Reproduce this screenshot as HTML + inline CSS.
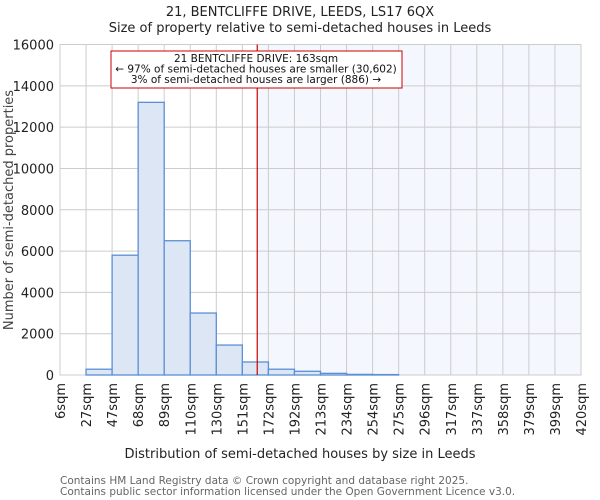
<!DOCTYPE html>
<html><head><meta charset="utf-8"><style>
body{margin:0;background:#fff}
svg{display:block;font-family:"DejaVu Sans","Liberation Sans",sans-serif}
</style></head><body>
<svg id="chart" width="600" height="500" xmlns="http://www.w3.org/2000/svg">
<text x="300" y="16" text-anchor="middle" font-size="13" fill="#222">21, BENTCLIFFE DRIVE, LEEDS, LS17 6QX</text>
<text x="300" y="32" text-anchor="middle" font-size="13" fill="#222">Size of property relative to semi-detached houses in Leeds</text>
<g id="grid"></g><g id="bars"></g><g id="axes"></g>
<text x="300" y="458" text-anchor="middle" font-size="13" fill="#222">Distribution of semi-detached houses by size in Leeds</text>
<text transform="translate(13,210) rotate(-90)" text-anchor="middle" font-size="13" fill="#444">Number of semi-detached properties</text>
<text x="60" y="484" font-size="10.5" fill="#666">Contains HM Land Registry data © Crown copyright and database right 2025.</text>
<text x="60" y="495" font-size="10.5" fill="#666">Contains public sector information licensed under the Open Government Licence v3.0.</text>
</svg>
<script>
const binLabels=["6sqm","27sqm","47sqm","68sqm","89sqm","110sqm","130sqm","151sqm","172sqm","192sqm","213sqm","234sqm","254sqm","275sqm","296sqm","317sqm","337sqm","358sqm","379sqm","399sqm","420sqm"];
const counts=[0,280,5800,13200,6500,3000,1450,630,280,180,80,30,20,0,0,0,0,0,0,0];
const yTicks=[0,2000,4000,6000,8000,10000,12000,14000,16000];
const propertySize=163;
const annotationLines=["21 BENTCLIFFE DRIVE: 163sqm","← 97% of semi-detached houses are smaller (30,602)","3% of semi-detached houses are larger (886) →"];
const NS="http://www.w3.org/2000/svg";
const L=60,R=581,T=44.5,B=375,yMax=16000;
const nb=binLabels.length-1;
const xb=i=>L+i*(R-L)/nb;
const binVals=binLabels.map(s=>parseFloat(s));
function xv(v){for(let i=0;i<nb;i++){if(v<=binVals[i+1]){return xb(i)+(v-binVals[i])/(binVals[i+1]-binVals[i])*(xb(i+1)-xb(i));}}return R;}
const y=v=>B-v/yMax*(B-T);
function mk(tag,attrs,parent){const e=document.createElementNS(NS,tag);for(const k in attrs)e.setAttribute(k,attrs[k]);parent.appendChild(e);return e;}
const grid=document.getElementById('grid'),bars=document.getElementById('bars'),axes=document.getElementById('axes');
const px=xv(propertySize);
let sh=mk('rect',{x:px,y:T,width:R-px,height:B-T,fill:'#f4f7fd'},grid);


yTicks.forEach(t=>{
 let g=mk('line',{x1:L,x2:R,y1:y(t),y2:y(t),stroke:'#ccc','stroke-width':1},grid);
 
 
 let tx=mk('text',{x:L-6,y:y(t)+5,'text-anchor':'end','font-size':13,fill:'#222'},axes);
 tx.textContent=t;
 
 
});
binLabels.forEach((lab,i)=>{
 let g=mk('line',{x1:xb(i),x2:xb(i),y1:T,y2:B,stroke:'#ccc','stroke-width':1},grid);
 
 
 let tx=mk('text',{transform:`translate(${xb(i)+5},383) rotate(-90)`,'text-anchor':'end','font-size':13,fill:'#222'},axes);
 tx.textContent=lab;
 
 
});
let fr=mk('rect',{x:L,y:T,width:R-L,height:B-T,fill:'none',stroke:'#ccc'},grid);


counts.forEach((c,i)=>{
 if(c<=0)return;
 let b=mk('rect',{x:xb(i),y:y(c),width:xb(i+1)-xb(i),height:B-y(c),fill:'#dce6f4',stroke:'#5b8fd6','stroke-width':1.3},bars);
 
 
});
let ml=mk('line',{x1:px,x2:px,y1:T,y2:B,stroke:'#c00','stroke-width':1.2},bars);


let box=mk('rect',{x:111,y:51,width:291,height:37,fill:'#fff',stroke:'#c00','stroke-width':1},bars);


annotationLines.forEach((s,i)=>{
 let t=mk('text',{x:256,y:62+i*10.5,'text-anchor':'middle','font-size':10.5,fill:'#111'},bars);
 t.textContent=s;
 
 
});
</script>
</body></html>
